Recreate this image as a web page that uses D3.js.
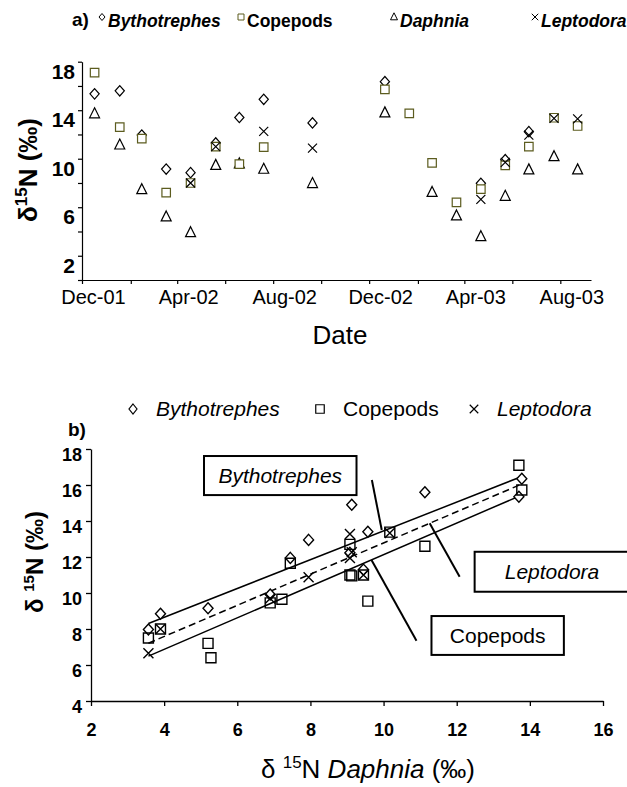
<!DOCTYPE html>
<html>
<head>
<meta charset="utf-8">
<script src="https://cdn.jsdelivr.net/npm/d3@7"></script>
<style>
  body { margin: 0; background: #fff; }
  svg { display: block; font-family: Arial, "Liberation Sans", Helvetica, sans-serif; }
</style>
</head>
<body>
<svg id="chart" width="627" height="787"></svg>
<script>
// Sampling dates and δ15N (‰) of each zooplankton group
const sampleDates = ["2001-12-17","2002-01-18","2002-02-15","2002-03-18","2002-04-18","2002-05-20",
  "2002-06-19","2002-07-20","2002-09-20","2002-12-21","2003-01-21","2003-02-19","2003-03-22",
  "2003-04-22","2003-05-23","2003-06-22","2003-07-24","2003-08-23"];
const bythotrephes = [15.35, 15.6, 11.95, 9.15, 8.85, 11.3, 13.4, 14.9, 12.95, 16.35, null, null, null, 7.97, 9.92, 12.23, null, null];
const copepods     = [17.1, 12.6, 11.65, 7.2, 8.0, 11.0, 9.55, 10.95, null, 15.72, 13.74, 9.65, 6.4, 7.5, 9.45, 11.0, 13.38, 12.7];
const daphnia      = [13.7, 11.13, 7.45, 5.2, 3.9, 9.45, 9.57, 9.13, 7.95, 13.78, null, 7.22, 5.28, 3.57, 6.9, 9.08, 10.17, 9.08];
const leptodora    = [null, null, null, null, 8.0, 11.0, null, 12.26, 10.87, null, null, null, null, 6.65, 9.7, 11.95, 13.33, 13.28];

// Axis ticks
const dateAxisStart = "2001-12-01", dateAxisEnd = "2003-09-09";
const dateLabelMonths = ["Dec-01","Apr-02","Aug-02","Dec-02","Apr-03","Aug-03"];
const yTicksA = [0, 2, 4, 6, 8, 10, 12, 14, 16, 18];
const yLabelsA = [2, 6, 10, 14, 18];
const xTicksB = [2, 4, 6, 8, 10, 12, 14, 16];
const yTicksB = [4, 6, 8, 10, 12, 14, 16, 18];

// Linear fits of each predator / copepod δ15N against Daphnia δ15N
const fitBythotrephes = { slope: 0.80, intercept: 5.45 };
const fitCopepods     = { slope: 0.877, intercept: 3.36 };
const fitLeptodora    = { slope: 0.866, intercept: 4.12 };

// Fit labels: box corners and leader line, in data units
const fitLabels = [
  { text: "Bythotrephes", italic: true,  box: [5.09, 17.61, 9.26, 15.44], lead: [9.68, 16.28, 9.95, 13.5] },
  { text: "Leptodora",    italic: true,  box: [12.49, 12.29, 17.2, 10.07], lead: [11.26, 13.87, 12.08, 10.9] },
  { text: "Copepods",     italic: false, box: [11.31, 8.72, 14.93, 6.56], lead: [9.67, 11.83, 10.9, 7.35] }
];

const svg = d3.select("#chart");
const parse = d3.timeParse("%Y-%m-%d");
const fmt = d3.timeFormat("%b-%y");
const FONT = "Arial, 'Liberation Sans', sans-serif";

// ---------- marker shapes ----------
function diamond(r, h) { return `M0,${-h}L${r},0L0,${h}L${-r},0Z`; }
function square(s) { const a = s / 2; return `M${-a},${-a}H${a}V${a}H${-a}Z`; }
function triangle(w, h) { return `M0,${-h*0.6}L${w/2},${h*0.4}L${-w/2},${h*0.4}Z`; }
function cross(s) { const a = s / 2; return `M${-a},${-a}L${a},${a}M${a},${-a}L${-a},${a}`; }

// ================= Panel a: time series =================
const xA = d3.scaleTime().domain([parse(dateAxisStart), parse(dateAxisEnd)]).range([82, 591]);
const yA = d3.scaleLinear().domain([0, 18]).range([280, 61.7]);

const gA = svg.append("g");
const xAxisA = d3.axisBottom(xA)
  .tickValues(d3.timeMonth.range(parse(dateAxisStart), parse(dateAxisEnd), 2))
  .tickSize(4).tickSizeOuter(0)
  .tickFormat(d => dateLabelMonths.includes(fmt(d)) ? fmt(d) : "");
const gxA = gA.append("g").attr("transform", "translate(0,280)").call(xAxisA);
gxA.selectAll("text").attr("font-size", 20).attr("font-family", FONT)
  .attr("fill", "#000").attr("dx", 11).attr("dy", 17);

const yAxisA = d3.axisLeft(yA).tickValues(yTicksA).tickSize(4).tickSizeOuter(0)
  .tickFormat(d => yLabelsA.includes(d) ? d : "");
const gyA = gA.append("g").attr("transform", "translate(82,0)").call(yAxisA);
gyA.selectAll("text").attr("font-size", 21).attr("font-weight", "bold")
  .attr("font-family", FONT).attr("fill", "#000").attr("dy", "0.78em").attr("x", -7);
[gxA, gyA].forEach(g => { g.selectAll("path,line").attr("stroke", "#000").attr("stroke-width", 1.2); });

const rowsA = sampleDates.map((d, i) => ({ date: parse(d), b: bythotrephes[i], c: copepods[i], d: daphnia[i], l: leptodora[i] }));
const seriesA = [
  { key: "d", path: triangle(10, 10), stroke: "#000", fill: "#fff" },
  { key: "b", path: diamond(4.6, 5.2), stroke: "#000", fill: "#fff" },
  { key: "c", path: square(8.5), stroke: "#5c5c1f", fill: "#fff" },
  { key: "l", path: cross(9), stroke: "#000", fill: "none" }
];
seriesA.forEach(s => {
  gA.append("g").selectAll("path").data(rowsA.filter(r => r[s.key] != null)).join("path")
    .attr("transform", r => `translate(${xA(r.date)},${yA(r[s.key])})`)
    .attr("d", s.path).attr("fill", s.fill).attr("stroke", s.stroke).attr("stroke-width", 1.2);
});

// axis titles panel a
const yTitleA = gA.append("text").attr("transform", "translate(37,170) rotate(-90)")
  .attr("text-anchor", "middle").attr("font-size", 26).attr("font-weight", "bold");
yTitleA.append("tspan").text("δ");
yTitleA.append("tspan").attr("font-size", 17).attr("dy", -10).text("15");
yTitleA.append("tspan").attr("dy", 10).text("N (‰)");
gA.append("text").attr("x", 340).attr("y", 344).attr("text-anchor", "middle").attr("font-size", 26).text("Date");

// legend panel a
const legA = gA.append("g");
legA.append("text").attr("x", 72).attr("y", 26).attr("font-size", 19).attr("font-weight", "bold").text("a)");
const legItemsA = [
  { x: 102, path: diamond(3, 3.5), stroke: "#000", text: "Bythotrephes", italic: true },
  { x: 241, path: square(6), stroke: "#5c5c1f", text: "Copepods", italic: false },
  { x: 394, path: triangle(7, 7), stroke: "#000", text: "Daphnia", italic: true },
  { x: 535, path: cross(6.5), stroke: "#000", text: "Leptodora", italic: true }
];
legItemsA.forEach(it => {
  legA.append("path").attr("transform", `translate(${it.x},17)`).attr("d", it.path)
    .attr("fill", "none").attr("stroke", it.stroke).attr("stroke-width", 1);
  legA.append("text").attr("x", it.x + 6).attr("y", 27).attr("font-size", 17.5).attr("font-weight", "bold")
    .attr("font-style", it.italic ? "italic" : "normal").text(it.text);
});

// ================= Panel b: scatter vs Daphnia =================
const xB = d3.scaleLinear().domain([2, 16]).range([91, 603]);
const yB = d3.scaleLinear().domain([4, 18]).range([701, 449]);
const gB = svg.append("g");

const gxB = gB.append("g").attr("transform", "translate(0,701)")
  .call(d3.axisBottom(xB).tickValues(xTicksB).tickSize(5).tickSizeOuter(0));
gxB.selectAll("text").attr("font-size", 18).attr("font-weight", "bold")
  .attr("font-family", FONT).attr("fill", "#000").attr("dy", 27);
const gyB = gB.append("g").attr("transform", "translate(91,0)")
  .call(d3.axisLeft(yB).tickValues(yTicksB).tickSize(5).tickSizeOuter(0));
gyB.selectAll("text").attr("font-size", 18).attr("font-weight", "bold")
  .attr("font-family", FONT).attr("fill", "#000").attr("dy", "0.65em").attr("x", -9);
[gxB, gyB].forEach(g => { g.selectAll("path,line").attr("stroke", "#000").attr("stroke-width", 1.3); });

// fitted lines across the Daphnia range
const dRange = d3.extent(daphnia.filter(v => v != null));
const fitLines = [
  { fit: fitBythotrephes, dash: null },
  { fit: fitCopepods, dash: null },
  { fit: fitLeptodora, dash: "7,4" }
];
const line = d3.line().x(p => xB(p[0])).y(p => yB(p[1]));
fitLines.forEach(f => {
  gB.append("path").attr("d", line(dRange.map(x => [x, f.fit.intercept + f.fit.slope * x])))
    .attr("fill", "none").attr("stroke", "#000").attr("stroke-width", 1.5)
    .attr("stroke-dasharray", f.dash);
});

// points paired with Daphnia on the same date
const seriesB = [
  { vals: bythotrephes, path: diamond(5, 5.5), fill: "#fff" },
  { vals: copepods, path: square(10), fill: "none" },
  { vals: leptodora, path: cross(10), fill: "none" }
];
seriesB.forEach(s => {
  const pts = daphnia.map((d, i) => ({ x: d, y: s.vals[i] })).filter(p => p.x != null && p.y != null);
  gB.append("g").selectAll("path").data(pts).join("path")
    .attr("transform", p => `translate(${xB(p.x)},${yB(p.y)})`)
    .attr("d", s.path).attr("fill", s.fill).attr("stroke", "#000").attr("stroke-width", 1.4);
});

// labelled boxes with leader lines
fitLabels.forEach(a => {
  const [x0, y0, x1, y1] = a.box;
  gB.append("rect").attr("x", xB(x0)).attr("y", yB(y0))
    .attr("width", xB(x1) - xB(x0)).attr("height", yB(y1) - yB(y0))
    .attr("fill", "#fff").attr("stroke", "#000").attr("stroke-width", 2);
  const cx = a.text === "Leptodora" ? 552 : (xB(x0) + xB(x1)) / 2;
  gB.append("text").attr("x", cx).attr("y", (yB(y0) + yB(y1)) / 2 + 7.5)
    .attr("text-anchor", "middle").attr("font-size", 21)
    .attr("font-style", a.italic ? "italic" : "normal").text(a.text);
  const [lx0, ly0, lx1, ly1] = a.lead;
  gB.append("line").attr("x1", xB(lx0)).attr("y1", yB(ly0)).attr("x2", xB(lx1)).attr("y2", yB(ly1))
    .attr("stroke", "#000").attr("stroke-width", 2);
});

// axis titles panel b
const yTitleB = gB.append("text").attr("transform", "translate(43,562) rotate(-90)")
  .attr("text-anchor", "middle").attr("font-size", 24).attr("font-weight", "bold");
yTitleB.append("tspan").text("δ ");
yTitleB.append("tspan").attr("font-size", 15).attr("dy", -9).text("15");
yTitleB.append("tspan").attr("dy", 9).text("N (‰)");

const xTitleB = gB.append("text").attr("x", 368).attr("y", 778).attr("text-anchor", "middle").attr("font-size", 26);
xTitleB.append("tspan").text("δ ");
xTitleB.append("tspan").attr("font-size", 17).attr("dy", -10).text("15");
xTitleB.append("tspan").attr("dy", 10).text("N ");
xTitleB.append("tspan").attr("font-style", "italic").text("Daphnia");
xTitleB.append("tspan").text(" (‰)");

// legend panel b
const legB = gB.append("g");
legB.append("text").attr("x", 68).attr("y", 436).attr("font-size", 19).attr("font-weight", "bold").text("b)");
const legItemsB = [
  { x: 133, path: diamond(4, 5), text: "Bythotrephes", italic: true },
  { x: 320, path: square(8.5), text: "Copepods", italic: false },
  { x: 474, path: cross(8.5), text: "Leptodora", italic: true }
];
legItemsB.forEach(it => {
  legB.append("path").attr("transform", `translate(${it.x},409)`).attr("d", it.path)
    .attr("fill", "none").attr("stroke", "#000").attr("stroke-width", 1.2);
  legB.append("text").attr("x", it.x + 23).attr("y", 416).attr("font-size", 21)
    .attr("font-style", it.italic ? "italic" : "normal").text(it.text);
});
</script>
</body>
</html>
